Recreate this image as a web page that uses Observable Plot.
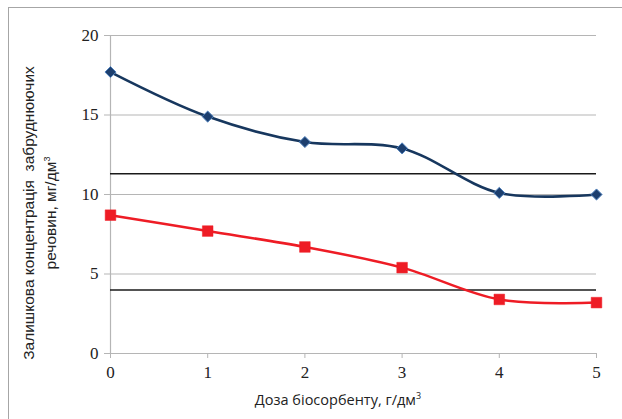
<!DOCTYPE html>
<html><head><meta charset="utf-8">
<script src="https://cdn.jsdelivr.net/npm/d3@7"></script>
<script src="https://cdn.jsdelivr.net/npm/@observablehq/plot@0.6"></script>
<style>
body{margin:0;background:#fff;}
#wrap{position:relative;width:622px;height:419px;overflow:hidden;}
#frame{position:absolute;left:8px;top:7px;width:700px;height:500px;border-top:1px solid #a6a6a6;border-left:1px solid #a6a6a6;}
#chart{position:absolute;left:0;top:0;}
#ylab{position:absolute;left:40px;top:213px;transform:translate(-50%,-50%) rotate(-90deg);white-space:nowrap;text-align:center;font-family:"Liberation Sans",Arial,sans-serif;font-size:15.5px;line-height:22px;color:#222;}
#xlab{position:absolute;left:338px;top:390px;transform:translateX(-50%);white-space:nowrap;font-family:"Open Sans","Noto Sans",sans-serif;font-size:14.5px;color:#222;}
sup{font-size:9px;vertical-align:6px;line-height:0;}
</style></head>
<body>
<div id="wrap">
<div id="frame"></div>
<div id="chart"></div>
<div id="ylab">Залишкова концентрація&nbsp; забруднюючих<br>речовин, мг/дм<sup>3</sup></div>
<div id="xlab">Доза біосорбенту, г/дм<sup>3</sup></div>
</div>
<script>
const doses = [0, 1, 2, 3, 4, 5];
const seriesBlue = [17.7, 14.9, 13.3, 12.9, 10.1, 10.0];
const seriesRed = [8.7, 7.7, 6.7, 5.4, 3.4, 3.2];
const limits = [11.3, 4.0];
const yTicks = [0, 5, 10, 15, 20];
const xTicks = [0, 1, 2, 3, 4, 5];

const blue = doses.map((d, i) => ({x: d, y: seriesBlue[i]}));
const red = doses.map((d, i) => ({x: d, y: seriesRed[i]}));
const serif = "'Liberation Serif','Times New Roman',serif";

const plot = Plot.plot({
  width: 622,
  height: 419,
  marginLeft: 110,
  marginRight: 26,
  marginTop: 35,
  marginBottom: 66,
  style: {fontFamily: serif, fontSize: "17px", color: "#222", background: "transparent"},
  x: {domain: [0, 5], label: null},
  y: {domain: [0, 20], label: null},
  marks: [
    Plot.gridY(yTicks, {stroke: "#b5b5b5", strokeOpacity: 1, strokeWidth: 1}),
    Plot.ruleX([0], {stroke: "#b5b5b5", strokeWidth: 1.2}),
    Plot.axisY(yTicks, {tickSize: 6, tickPadding: 6, stroke: "#b5b5b5", label: null, fontSize: 17, fontFamily: serif, tickFormat: d => String(d)}),
    Plot.axisX(xTicks, {tickSize: 5, tickPadding: 7, stroke: "#b5b5b5", label: null, fontSize: 17, fontFamily: serif, tickFormat: d => String(d)}),
    Plot.ruleY(limits, {stroke: "#1a1a1a", strokeWidth: 1.5}),
    Plot.line(blue, {x: "x", y: "y", curve: "catmull-rom", stroke: "#17375e", strokeWidth: 2.6}),
    Plot.line(red, {x: "x", y: "y", curve: "catmull-rom", stroke: "#ee1c25", strokeWidth: 2.5}),
    Plot.dot(blue, {x: "x", y: "y", symbol: "diamond2", r: 5, fill: "#1d3f6e", stroke: "#4f81bd", strokeWidth: 1}),
    Plot.dot(red, {x: "x", y: "y", symbol: "square", r: 6, fill: "#ee1c25", stroke: "#ee1c25", strokeWidth: 0.5})
  ]
});
document.getElementById("chart").appendChild(plot);
</script>
</body></html>
